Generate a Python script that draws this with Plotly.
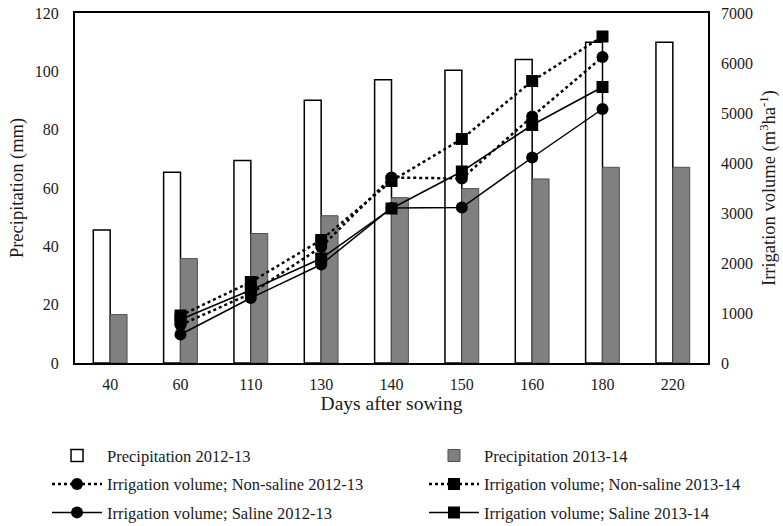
import plotly.graph_objects as go

# Days after sowing (categorical axis)
days = ["40", "60", "110", "130", "140", "150", "160", "180", "220"]

# Monthly precipitation (mm)
precip_2012_13 = [45.6, 65.4, 69.4, 90.1, 97.1, 100.4, 104.1, 110.0, 110.0]
precip_2013_14 = [16.6, 35.8, 44.4, 50.5, 56.7, 59.8, 63.1, 67.1, 67.1]

# Cumulative irrigation volume (m3 ha-1)
irr_days = ["60", "110", "130", "140", "150", "160", "180"]
nonsaline_2012_13 = [760, 1390, 2320, 3710, 3690, 4930, 6120]
nonsaline_2013_14 = [950, 1620, 2460, 3640, 4480, 5640, 6530]
saline_2012_13 = [570, 1300, 1970, 3100, 3110, 4110, 5080]
saline_2013_14 = [870, 1460, 2090, 3090, 3830, 4760, 5520]

FONT = "Liberation Serif, Times New Roman, serif"
TEXT = "#1a1a1a"

fig = go.Figure()

# 2012-13 season entries go in the left legend column, 2013-14 in the right one
fig.add_trace(go.Bar(
    x=days, y=precip_2012_13, name="Precipitation 2012-13",
    legend="legend", legendgroup="p1",
    marker=dict(color="white", line=dict(color="black", width=1.5)),
))
fig.add_trace(go.Bar(
    x=days, y=precip_2013_14, name="Precipitation 2013-14",
    legend="legend2", legendgroup="p2",
    marker=dict(color="#808080", line=dict(color="#505050", width=1)),
))

def irr_trace(y, name, dash, symbol, legend, group):
    return go.Scatter(
        x=irr_days, y=y, name=name, yaxis="y2", mode="lines+markers",
        legend=legend, legendgroup=group,
        line=dict(color="black", width=2.5 if dash == "dot" else 1.5, dash=dash),
        marker=dict(color="black", size=12, symbol=symbol),
    )

fig.add_trace(irr_trace(nonsaline_2012_13, "Irrigation volume; Non-saline 2012-13",
                        "dot", "circle", "legend", "n1"))
fig.add_trace(irr_trace(nonsaline_2013_14, "Irrigation volume; Non-saline 2013-14",
                        "dot", "square", "legend2", "n2"))
fig.add_trace(irr_trace(saline_2012_13, "Irrigation volume; Saline 2012-13",
                        "solid", "circle", "legend", "s1"))
fig.add_trace(irr_trace(saline_2013_14, "Irrigation volume; Saline 2013-14",
                        "solid", "square", "legend2", "s2"))

legend_style = dict(
    orientation="v", yanchor="top", xanchor="left",
    font=dict(family=FONT, size=16.5, color=TEXT),
    traceorder="grouped", tracegroupgap=4, itemwidth=50,
    bgcolor="rgba(0,0,0,0)",
)

fig.update_layout(
    width=783, height=526,
    margin=dict(l=75, r=75, t=13, b=163, autoexpand=False),
    paper_bgcolor="white", plot_bgcolor="white",
    font=dict(family=FONT, size=16, color=TEXT),
    barmode="group", bargap=0.52, bargroupgap=0,
    showlegend=True,
    legend=dict(x=-0.0442, y=-0.215, **legend_style),
    legend2=dict(x=0.5513, y=-0.215, **legend_style),
    xaxis=dict(
        type="category", categoryorder="array", categoryarray=days,
        showline=True, linecolor="black", linewidth=2, mirror=True,
        ticks="", showgrid=False, ticklabelstandoff=6,
        title=dict(text="Days after sowing", font=dict(size=19.5), standoff=3),
        tickfont=dict(size=16),
    ),
    yaxis=dict(
        range=[0, 120], dtick=20,
        showline=True, linecolor="black", linewidth=2, mirror=True,
        ticks="", showgrid=False, zeroline=False, ticklabelstandoff=11,
        title=dict(text="Precipitation (mm)", font=dict(size=18.5), standoff=6),
        tickfont=dict(size=16),
    ),
    yaxis2=dict(
        overlaying="y", side="right",
        range=[0, 7000], dtick=1000,
        showline=False, ticks="", showgrid=False, zeroline=False,
        ticklabelstandoff=12,
        title=dict(text="Irrigation volume (m<sup>3</sup>ha<sup>-1</sup>)",
                   font=dict(size=18.5), standoff=10),
        tickfont=dict(size=16),
    ),
)

fig.write_html("out.html")
